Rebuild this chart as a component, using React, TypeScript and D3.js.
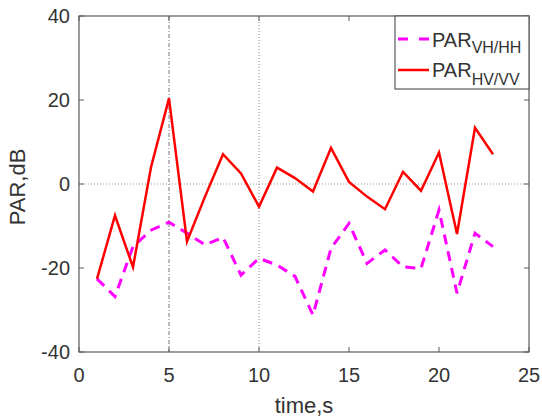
import React from "react";
import * as d3 from "d3";

const times = [1, 2, 3, 4, 5, 6, 7, 8, 9, 10, 11, 12, 13, 14, 15, 16, 17, 18, 19, 20, 21, 22, 23];
const parVHHH = [-22.6, -26.8, -14.9, -11, -9.1, -11.7, -14.5, -12.7, -21.7, -17.7, -19.3, -22, -31.2, -15.3, -9.4, -18.9, -15.7, -19.7, -20.1, -6.2, -26, -11.7, -14.9];
const parHVVV = [-22.6, -7.5, -19.8, 4, 20.4, -13.7, -3, 7.1, 2.5, -5.4, 3.9, 1.4, -1.8, 8.6, 0.5, -3, -6, 2.9, -1.6, 7.5, -11.9, 13.4, 7.1];
const xTicks = [0, 5, 10, 15, 20, 25];
const yTicks = [-40, -20, 0, 20, 40];

const W = 542, H = 420;
const L = 79, R = 529, T = 16, B = 352;

export default function App() {
  const x = d3.scaleLinear().domain([0, 25]).range([L, R]);
  const y = d3.scaleLinear().domain([-40, 40]).range([B, T]);
  const line = d3.line<number>().x((_, i) => x(times[i])).y((d) => y(d));
  const axisColor = "#5a5a5a";
  const textColor = "#333";
  const font = "Liberation Sans, Arial, sans-serif";
  return (
    <svg width={W} height={H} style={{ position: "absolute", left: 0, top: 0, background: "#fff" }}>
      <rect x={0} y={0} width={W} height={H} fill="#fff" />
      {/* grid lines */}
      <line x1={x(5)} x2={x(5)} y1={T} y2={B} stroke="#777" strokeWidth={1} strokeDasharray="4,2,1,2" />
      <line x1={x(10)} x2={x(10)} y1={T} y2={B} stroke="#888" strokeWidth={1} strokeDasharray="1,2" />
      <line x1={L} x2={R} y1={y(0)} y2={y(0)} stroke="#999" strokeWidth={1} strokeDasharray="1,2" />
      {/* data */}
      <path d={line(parVHHH) || ""} fill="none" stroke="#ff00ff" strokeWidth={3} strokeDasharray="10,7" />
      <path d={line(parHVVV) || ""} fill="none" stroke="#ff0000" strokeWidth={2.5} strokeLinejoin="miter" />
      {/* box */}
      <rect x={L} y={T} width={R - L} height={B - T} fill="none" stroke={axisColor} strokeWidth={1.2} />
      {/* ticks */}
      {xTicks.map((t) => (
        <g key={"x" + t}>
          <line x1={x(t)} x2={x(t)} y1={B} y2={B - 5} stroke={axisColor} />
          <line x1={x(t)} x2={x(t)} y1={T} y2={T + 5} stroke={axisColor} />
          <text x={x(t)} y={B + 30} textAnchor="middle" fontSize={20} fill={textColor} fontFamily={font}>{t}</text>
        </g>
      ))}
      {yTicks.map((t) => (
        <g key={"y" + t}>
          <line x1={L} x2={L + 5} y1={y(t)} y2={y(t)} stroke={axisColor} />
          <line x1={R} x2={R - 5} y1={y(t)} y2={y(t)} stroke={axisColor} />
          <text x={L - 9} y={y(t) + 7} textAnchor="end" fontSize={20} fill={textColor} fontFamily={font}>{t}</text>
        </g>
      ))}
      <text x={(L + R) / 2} y={413} textAnchor="middle" fontSize={22} fill={textColor} fontFamily={font}>time,s</text>
      <text transform={`translate(25,${(T + B) / 2 + 3}) rotate(-90)`} textAnchor="middle" fontSize={22} fill={textColor} fontFamily={font}>PAR,dB</text>
      {/* legend */}
      <rect x={395} y={T} width={R - 395} height={73} fill="#fff" stroke={axisColor} strokeWidth={1.2} />
      <line x1={398} x2={429} y1={39} y2={39} stroke="#ff00ff" strokeWidth={3} strokeDasharray="10,11" />
      <text x={432} y={47} fontSize={20} fill={textColor} fontFamily={font}>PAR<tspan dy={6} fontSize={16}>VH/HH</tspan></text>
      <line x1={398} x2={429} y1={70} y2={70} stroke="#ff0000" strokeWidth={2.5} />
      <text x={432} y={77} fontSize={20} fill={textColor} fontFamily={font}>PAR<tspan dy={8} fontSize={16}>HV/VV</tspan></text>
    </svg>
  );
}
